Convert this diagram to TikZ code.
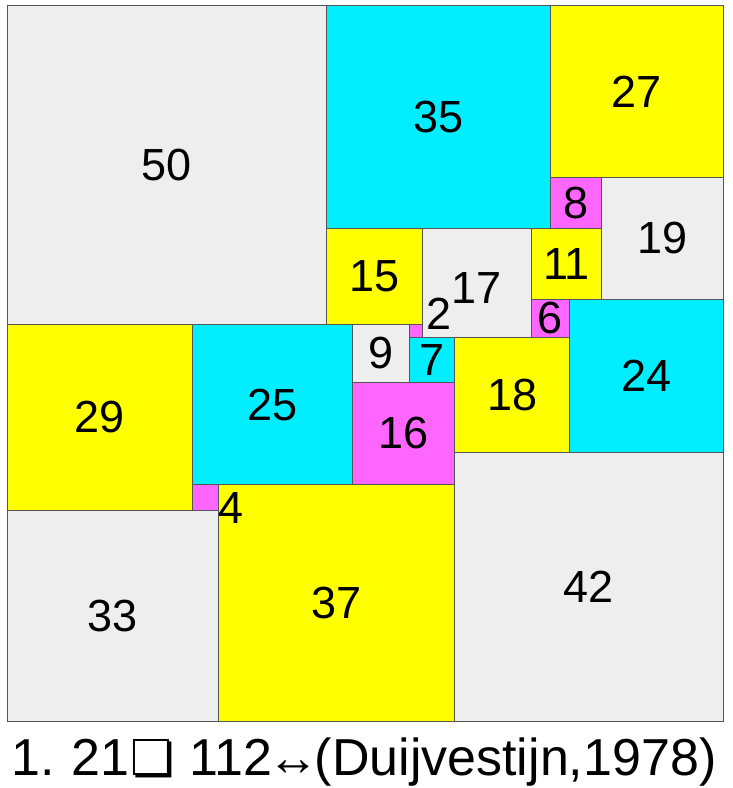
\documentclass[tikz,border=0pt]{standalone}
\usepackage{fontspec}
\setmainfont{Liberation Sans}
\newfontfamily\djv{DejaVu Sans}
\definecolor{cgrey}{HTML}{EEEEEE}
\definecolor{ccyan}{HTML}{00EEFF}
\definecolor{cyel}{HTML}{FFFF00}
\definecolor{cmag}{HTML}{FF66FF}
\definecolor{cline}{HTML}{555555}
\def\U{6.393}
\tikzset{
  sqbox/.style={draw=cline,line width=0.8pt,inner sep=0pt,outer sep=0pt,minimum size=#1*\U pt,font=\fontsize{45}{54}\selectfont},
  lbl/.style={inner sep=0pt,font=\fontsize{45}{54}\selectfont},
}
\newcommand{\Sq}[6]{\node[sqbox=#4,fill=#5] (#1) at ({7+\U*(#2+#4/2)},{5+\U*(#3+#4/2)}) {#6};}
\begin{document}
\begin{tikzpicture}[x=1pt,y=-1pt]
\useasboundingbox[fill=white] (0,0) rectangle (732,788);
\Sq{s50}{0}{0}{50}{cgrey}{50}
\Sq{s35}{50}{0}{35}{ccyan}{35}
\Sq{s27}{85}{0}{27}{cyel}{27}
\Sq{s8}{85}{27}{8}{cmag}{8}
\Sq{s19}{93}{27}{19}{cgrey}{19}
\Sq{s15}{50}{35}{15}{cyel}{15}
\Sq{s17}{65}{35}{17}{cgrey}{}
\Sq{s11}{82}{35}{11}{cyel}{11}
\Sq{s6}{82}{46}{6}{cmag}{6}
\Sq{s24}{88}{46}{24}{ccyan}{24}
\Sq{s2}{63}{50}{2}{cmag}{}
\Sq{s9}{54}{50}{9}{cgrey}{9}
\Sq{s7}{63}{52}{7}{ccyan}{7}
\Sq{s18}{70}{52}{18}{cyel}{18}
\Sq{s16}{54}{59}{16}{cmag}{16}
\Sq{s25}{29}{50}{25}{ccyan}{25}
\Sq{s29}{0}{50}{29}{cyel}{29}
\Sq{s42}{70}{70}{42}{cgrey}{42}
\Sq{s37}{33}{75}{37}{cyel}{37}
\Sq{s4}{29}{75}{4}{cmag}{}
\Sq{s33}{0}{79}{33}{cgrey}{33}
\node[lbl] (l17) at ([yshift=-5pt]s17.center) {17};
\node[lbl] (l2) at ([xshift=23pt,yshift=17pt]s2.center) {2};
\node[lbl] (l4) at ([xshift=26pt,yshift=-11pt]s4.center) {4};
\node[anchor=base,inner sep=0pt,font=\fontsize{52}{60}\selectfont] (cap) at (364,775) {1.\kern-3pt{} 21\kern1pt{\djv\scalebox{0.95}{❏}}\kern1pt{} 112\kern-5pt↔\kern-5pt(Duijvestijn,1978)};
\end{tikzpicture}
\end{document}
